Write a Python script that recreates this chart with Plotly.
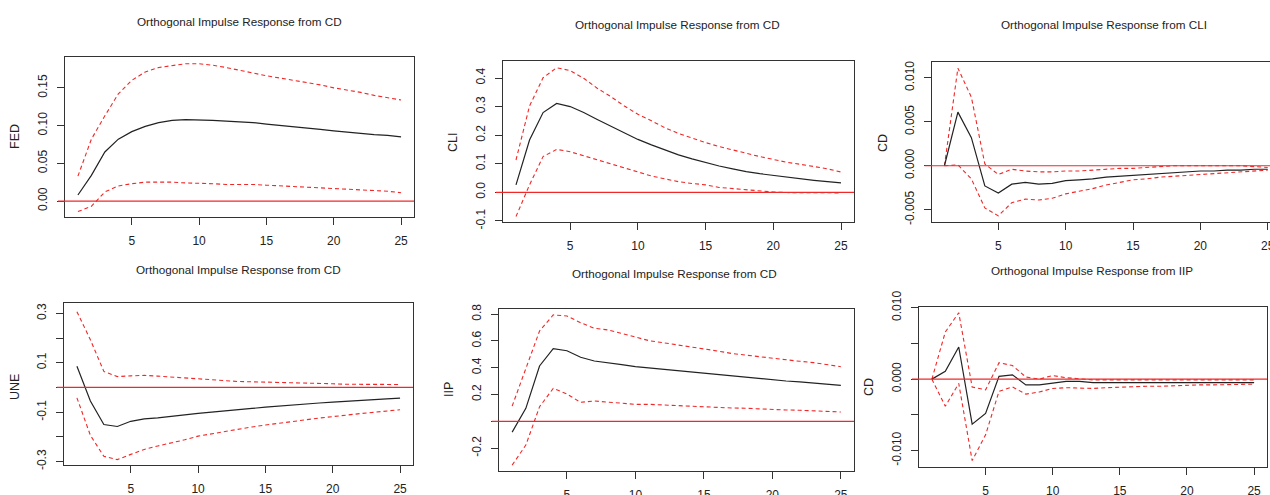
import plotly.graph_objects as go

W, H = 1270, 495
periods = list(range(1, 26))

# ---- data ----
fed_irf = [0.008, 0.034, 0.065, 0.082, 0.092, 0.099, 0.104, 0.107, 0.108, 0.108, 0.107, 0.106, 0.105,
           0.104, 0.102, 0.100, 0.099, 0.097, 0.095, 0.093, 0.091, 0.090, 0.088, 0.087, 0.085]
fed_upper = [0.033, 0.082, 0.113, 0.142, 0.160, 0.171, 0.177, 0.180, 0.182, 0.182, 0.180, 0.177, 0.173,
             0.169, 0.166, 0.163, 0.160, 0.157, 0.154, 0.150, 0.147, 0.144, 0.140, 0.137, 0.134]
fed_lower = [-0.014, -0.007, 0.012, 0.020, 0.023, 0.025, 0.025, 0.025, 0.024, 0.024, 0.023, 0.022, 0.022,
             0.022, 0.021, 0.020, 0.019, 0.018, 0.018, 0.017, 0.016, 0.015, 0.014, 0.013, 0.011]

cli_irf = [0.026, 0.183, 0.279, 0.311, 0.300, 0.279, 0.255, 0.232, 0.210, 0.185, 0.166, 0.148, 0.131,
           0.117, 0.104, 0.092, 0.082, 0.072, 0.065, 0.059, 0.052, 0.047, 0.042, 0.037, 0.033]
cli_upper = [0.113, 0.302, 0.401, 0.436, 0.426, 0.399, 0.364, 0.335, 0.302, 0.273, 0.250, 0.226, 0.206,
             0.189, 0.174, 0.160, 0.148, 0.136, 0.125, 0.115, 0.105, 0.098, 0.090, 0.082, 0.071]
cli_lower = [-0.085, 0.026, 0.125, 0.150, 0.142, 0.128, 0.113, 0.098, 0.084, 0.070, 0.057, 0.047, 0.037,
             0.031, 0.026, 0.017, 0.013, 0.008, 0.003, 0.001, -0.001, -0.001, -0.002, -0.002, -0.002]

cd_cli_irf = [0.0, 0.0061, 0.0032, -0.0023, -0.0031, -0.0021, -0.0019, -0.0021, -0.0020, -0.0017, -0.0016,
              -0.0015, -0.0013, -0.0012, -0.0011, -0.0010, -0.0009, -0.0008, -0.0007, -0.0006, -0.0006,
              -0.0005, -0.0005, -0.0004, -0.0004]
cd_cli_upper = [0.0, 0.0111, 0.0078, 0.0002, -0.0010, -0.0004, -0.0006, -0.0007, -0.0007, -0.0006, -0.0006,
                -0.0005, -0.0004, -0.0003, -0.0003, -0.0002, -0.0001, 0.0, 0.0, 0.0, 0.0, 0.0, 0.0,
                -0.0001, -0.0002]
cd_cli_lower = [0.0, 0.0001, -0.0015, -0.0048, -0.0057, -0.0042, -0.0038, -0.0039, -0.0037, -0.0032, -0.0029,
                -0.0026, -0.0022, -0.0019, -0.0016, -0.0015, -0.0013, -0.0012, -0.0011, -0.0010, -0.0009,
                -0.0008, -0.0007, -0.0006, -0.0005]

une_irf = [0.086, -0.055, -0.150, -0.158, -0.137, -0.127, -0.123, -0.116, -0.111, -0.105, -0.100, -0.094,
           -0.089, -0.085, -0.080, -0.075, -0.071, -0.067, -0.063, -0.059, -0.055, -0.051, -0.049, -0.046, -0.043]
une_upper = [0.307, 0.193, 0.065, 0.044, 0.047, 0.049, 0.046, 0.042, 0.038, 0.034, 0.031, 0.027, 0.024,
             0.023, 0.022, 0.020, 0.019, 0.018, 0.016, 0.015, 0.013, 0.013, 0.012, 0.012, 0.012]
une_lower = [-0.042, -0.194, -0.279, -0.292, -0.271, -0.251, -0.237, -0.225, -0.212, -0.197, -0.187, -0.177,
             -0.168, -0.160, -0.152, -0.144, -0.136, -0.131, -0.124, -0.117, -0.112, -0.106, -0.101, -0.096, -0.090]

iip_irf = [-0.080, 0.097, 0.413, 0.542, 0.527, 0.478, 0.450, 0.438, 0.423, 0.408, 0.398, 0.388, 0.378,
           0.368, 0.358, 0.348, 0.338, 0.328, 0.318, 0.308, 0.301, 0.294, 0.286, 0.279, 0.269]
iip_upper = [0.114, 0.396, 0.674, 0.794, 0.786, 0.736, 0.694, 0.682, 0.657, 0.627, 0.602, 0.587, 0.570,
             0.557, 0.540, 0.525, 0.507, 0.495, 0.483, 0.468, 0.458, 0.448, 0.438, 0.425, 0.408]
iip_lower = [-0.326, -0.177, 0.109, 0.246, 0.204, 0.142, 0.152, 0.142, 0.134, 0.127, 0.127, 0.122, 0.117,
             0.115, 0.112, 0.107, 0.100, 0.098, 0.092, 0.090, 0.085, 0.083, 0.080, 0.075, 0.070]

cd_iip_irf = [0.0, 0.0011, 0.0045, -0.0063, -0.0048, 0.0004, 0.0006, -0.0008, -0.0008, -0.0005, -0.0003,
              -0.0003, -0.0005, -0.0005, -0.0005, -0.0004, -0.0004, -0.0004, -0.0004, -0.0004, -0.0004,
              -0.0004, -0.0004, -0.0004, -0.0005]
cd_iip_upper = [0.0, 0.0066, 0.0093, -0.0011, -0.0015, 0.0023, 0.0019, 0.0003, 0.0, 0.0005, 0.0002, 0.0,
                -0.0001, -0.0001, -0.0001, -0.0001, -0.0001, -0.0001, -0.0001, -0.0001, -0.0001, -0.0001,
                -0.0001, -0.0001, -0.0001]
cd_iip_lower = [0.0, -0.0038, -0.0006, -0.0114, -0.0078, -0.0017, -0.0011, -0.0021, -0.0018, -0.0013, -0.0012,
                -0.0013, -0.0013, -0.0012, -0.0011, -0.0011, -0.0010, -0.0010, -0.0009, -0.0008, -0.0008,
                -0.0008, -0.0008, -0.0007, -0.0007]

titles = ["Orthogonal Impulse Response from CD", "Orthogonal Impulse Response from CD",
          "Orthogonal Impulse Response from CLI", "Orthogonal Impulse Response from CD",
          "Orthogonal Impulse Response from CD", "Orthogonal Impulse Response from IIP"]
ylabels = ["FED", "CLI", "CD", "UNE", "IIP", "CD"]
x_ticks = [5, 10, 15, 20, 25]

y_tickvals = [
    [0.0, 0.05, 0.10, 0.15],
    [-0.1, 0.0, 0.1, 0.2, 0.3, 0.4],
    [-0.005, 0.0, 0.005, 0.010],
    [-0.3, -0.2, -0.1, 0.0, 0.1, 0.2, 0.3],
    [-0.2, 0.0, 0.2, 0.4, 0.6, 0.8],
    [-0.010, -0.005, 0.0, 0.005, 0.010],
]
y_ticktext = [
    ["0.00", "0.05", "0.10", "0.15"],
    ["-0.1", "0.0", "0.1", "0.2", "0.3", "0.4"],
    ["-0.005", "0.000", "0.005", "0.010"],
    ["-0.3", "", "-0.1", "", "0.1", "", "0.3"],
    ["-0.2", "", "0.2", "0.4", "0.6", "0.8"],
    ["-0.010", "", "0.000", "", "0.010"],
]

series = [
    (fed_irf, fed_upper, fed_lower),
    (cli_irf, cli_upper, cli_lower),
    (cd_cli_irf, cd_cli_upper, cd_cli_lower),
    (une_irf, une_upper, une_lower),
    (iip_irf, iip_upper, iip_lower),
    (cd_iip_irf, cd_iip_upper, cd_iip_lower),
]

# ---- layout geometry (pixels) ----
boxes = [  # left, top, right, bottom
    (65, 57, 414, 216.5),
    (503, 61, 854, 222),
    (931.5, 62, 1270, 222),
    (64, 303, 413, 465),
    (499, 309, 854, 471),
    (919, 307, 1267, 467),
]
x_ranges = [[0.04, 25.96], [0.04, 25.96], [0.04, 25.17], [0.04, 25.96], [0.04, 25.96], [0.04, 25.96]]
y_ranges = [[-0.0205, 0.1909], [-0.104, 0.4595], [-0.0064, 0.0118], [-0.314, 0.342], [-0.37, 0.838],
            [-0.0123, 0.0101]]
title_pos = [(239, 21), (677, 25), (1104, 25), (238, 269), (674, 273), (1092, 270)]
ylabel_pos = [(15, 137), (453, 143), (883, 143), (15, 387), (449, 390), (869, 387)]

FONT = "Liberation Sans, Arial, sans-serif"
TXT = "#222222"
AX = "#333333"
RED = "#f02828"

fig = go.Figure()
layout = dict(
    template="none",
    width=W, height=H, autosize=False,
    margin=dict(l=0, r=0, t=0, b=0, pad=0, autoexpand=False),
    paper_bgcolor="white", plot_bgcolor="white",
    showlegend=False,
    font=dict(family=FONT, color=TXT),
)
annotations = []
shapes = []

for i in range(6):
    n = "" if i == 0 else str(i + 1)
    xa, ya = "x" + n, "y" + n
    L, T, R, B = boxes[i]
    irf, up, lo = series[i]
    fig.add_trace(go.Scatter(x=periods, y=up, mode="lines", xaxis=xa, yaxis=ya,
                             line=dict(color=RED, width=1.1, dash="4px,3px")))
    fig.add_trace(go.Scatter(x=periods, y=lo, mode="lines", xaxis=xa, yaxis=ya,
                             line=dict(color=RED, width=1.1, dash="4px,3px")))
    fig.add_trace(go.Scatter(x=periods, y=irf, mode="lines", xaxis=xa, yaxis=ya,
                             line=dict(color="#222222", width=1.2)))
    layout["xaxis" + n] = dict(
        domain=[L / W, min(R / W, 1.0)], anchor=ya, range=x_ranges[i], automargin=False,
        tickvals=x_ticks, ticktext=[str(v) for v in x_ticks], ticklabeloverflow="allow",
        ticks="outside", ticklen=7, tickcolor=AX, tickwidth=1,
        showline=True, linecolor=AX, linewidth=1, mirror=True,
        showgrid=False, zeroline=False, ticklabelstandoff=6,
        tickfont=dict(family=FONT, size=12, color=TXT),
    )
    layout["yaxis" + n] = dict(
        domain=[1 - B / H, 1 - T / H], anchor=xa, range=y_ranges[i], automargin=False,
        tickvals=y_tickvals[i], ticktext=y_ticktext[i], tickangle=-90, ticklabeloverflow="allow",
        ticks="outside", ticklen=7, tickcolor=AX, tickwidth=1,
        showline=True, linecolor=AX, linewidth=1, mirror=(i != 2),
        showgrid=False, zeroline=False, ticklabelstandoff=5,
        tickfont=dict(family=FONT, size=12, color=TXT),
    )
    width_px = min(R, W) - L
    shapes.append(dict(type="line", xref=xa + " domain", yref=ya, x0=-7 / width_px, x1=1, y0=0, y1=0,
                       line=dict(color=RED, width=1.2), layer="above"))
    tx, ty = title_pos[i]
    annotations.append(dict(text=titles[i], x=tx / W, y=1 - ty / H, xref="paper", yref="paper",
                            showarrow=False, xanchor="center", yanchor="middle",
                            font=dict(family=FONT, size=11.7, color=TXT)))
    lx, ly = ylabel_pos[i]
    annotations.append(dict(text=ylabels[i], x=lx / W, y=1 - ly / H, xref="paper", yref="paper",
                            showarrow=False, xanchor="center", yanchor="middle", textangle=-90,
                            font=dict(family=FONT, size=12.5, color=TXT)))

layout["annotations"] = annotations
layout["shapes"] = shapes
fig.update_layout(**layout)
fig.write_html("out.html")
